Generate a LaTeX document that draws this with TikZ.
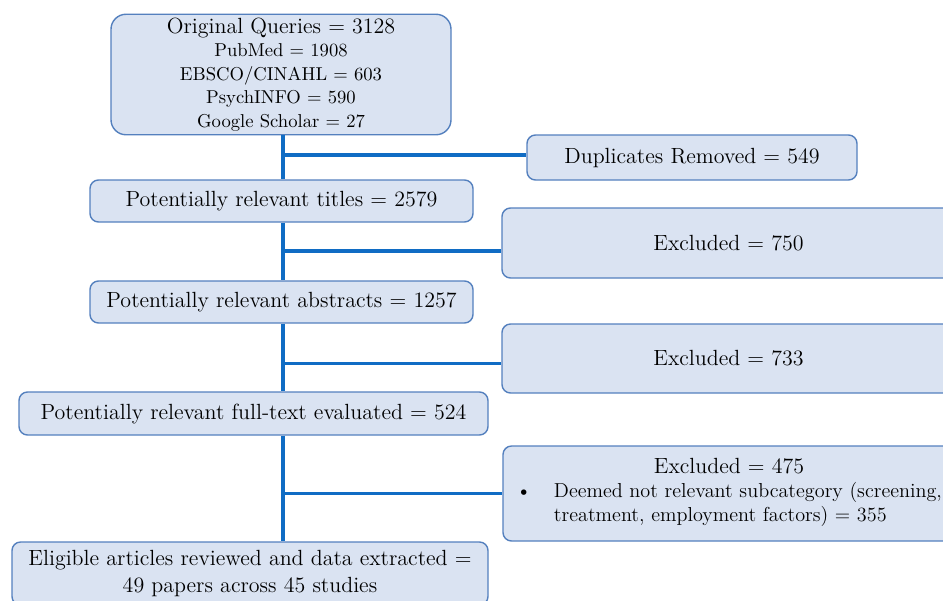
\documentclass[tikz,border=0pt]{standalone}
\usepackage{xcolor}
\usepackage{tikz}
\usetikzlibrary{calc}
\definecolor{boxfill}{RGB}{218,227,242}
\definecolor{boxline}{RGB}{84,128,190}
\definecolor{flowline}{RGB}{16,108,196}

\begin{document}
\begin{tikzpicture}[scale=1.0,
    stagebox/.style={draw=boxline, fill=boxfill, line width=0.8pt,
      rounded corners=0.17cm, align=center, inner sep=2pt,
      font=\fontsize{12.5}{15.3}\selectfont},
    flow/.style={draw=flowline, line width=2.2pt}]
  \clip (0,0) rectangle (18.86,-12);
  %% stages down the left side
  \node[stagebox, rounded corners=0.3cm, minimum width=6.8cm, minimum height=2.38cm,
    font=\fontsize{10.6}{13.4}\selectfont] (queries) at (5.62,-1.49)
    {{\fontsize{12.5}{13.4}\selectfont Original Queries = 3128}\\
     PubMed = 1908\\ EBSCO/CINAHL = 603\\ PsychINFO = 590\\ Google Scholar = 27};
  \node[stagebox, minimum width=7.66cm, minimum height=0.84cm] (titles) at (5.63,-4.02)
    {Potentially relevant titles = 2579};
  \node[stagebox, minimum width=7.66cm, minimum height=0.84cm] (abstracts) at (5.63,-6.04)
    {Potentially relevant abstracts = 1257};
  \node[stagebox, minimum width=9.38cm, minimum height=0.86cm] (fulltext) at (5.07,-8.27)
    {Potentially relevant full-text evaluated = 524};
  \node[stagebox, minimum width=9.52cm, minimum height=1.26cm] (eligible) at (5.0,-11.47)
    {Eligible articles reviewed and data extracted =\\ 49 papers across 45 studies};
  %% removed records on the right side
  \node[stagebox, minimum width=6.6cm, minimum height=0.9cm] (duplicates) at (13.84,-3.15)
    {Duplicates Removed = 549};
  \node[stagebox, minimum width=9.06cm, minimum height=1.4cm] (exclA) at (14.57,-4.86)
    {Excluded = 750};
  \node[stagebox, minimum width=9.06cm, minimum height=1.38cm] (exclB) at (14.57,-7.17)
    {Excluded = 733};
  \node[stagebox, minimum width=9.04cm, minimum height=1.9cm,
    font=\fontsize{12.5}{13.6}\selectfont] (exclC) at (14.58,-9.87)
    {Excluded = 475\\[3pt]
     {\fontsize{11.5}{13.6}\selectfont
     \begin{tabular}{@{}l@{\hspace{0.45cm}}l@{}}
       \textbullet & Deemed not relevant subcategory (screening,\\
                   & treatment, employment factors) = 355
     \end{tabular}}};
  %% trunk and branches
  \coordinate (trunk) at (5.66,0);
  \draw[flow] (queries.south -| trunk) -- (titles.north -| trunk);
  \draw[flow] (titles.south -| trunk) -- (abstracts.north -| trunk);
  \draw[flow] (abstracts.south -| trunk) -- (fulltext.north -| trunk);
  \draw[flow] (fulltext.south -| trunk) -- (eligible.north -| trunk);
  \draw[flow] ([yshift=0.05cm]trunk |- duplicates.west) -- ([yshift=0.05cm]duplicates.west);
  \draw[flow] ([yshift=-0.16cm]trunk |- exclA.west) -- ([yshift=-0.16cm]exclA.west);
  \draw[flow] ([yshift=-0.1cm]trunk |- exclB.west) -- ([yshift=-0.1cm]exclB.west);
  \draw[flow] (trunk |- exclC.west) -- (exclC.west);
\end{tikzpicture}
\end{document}
